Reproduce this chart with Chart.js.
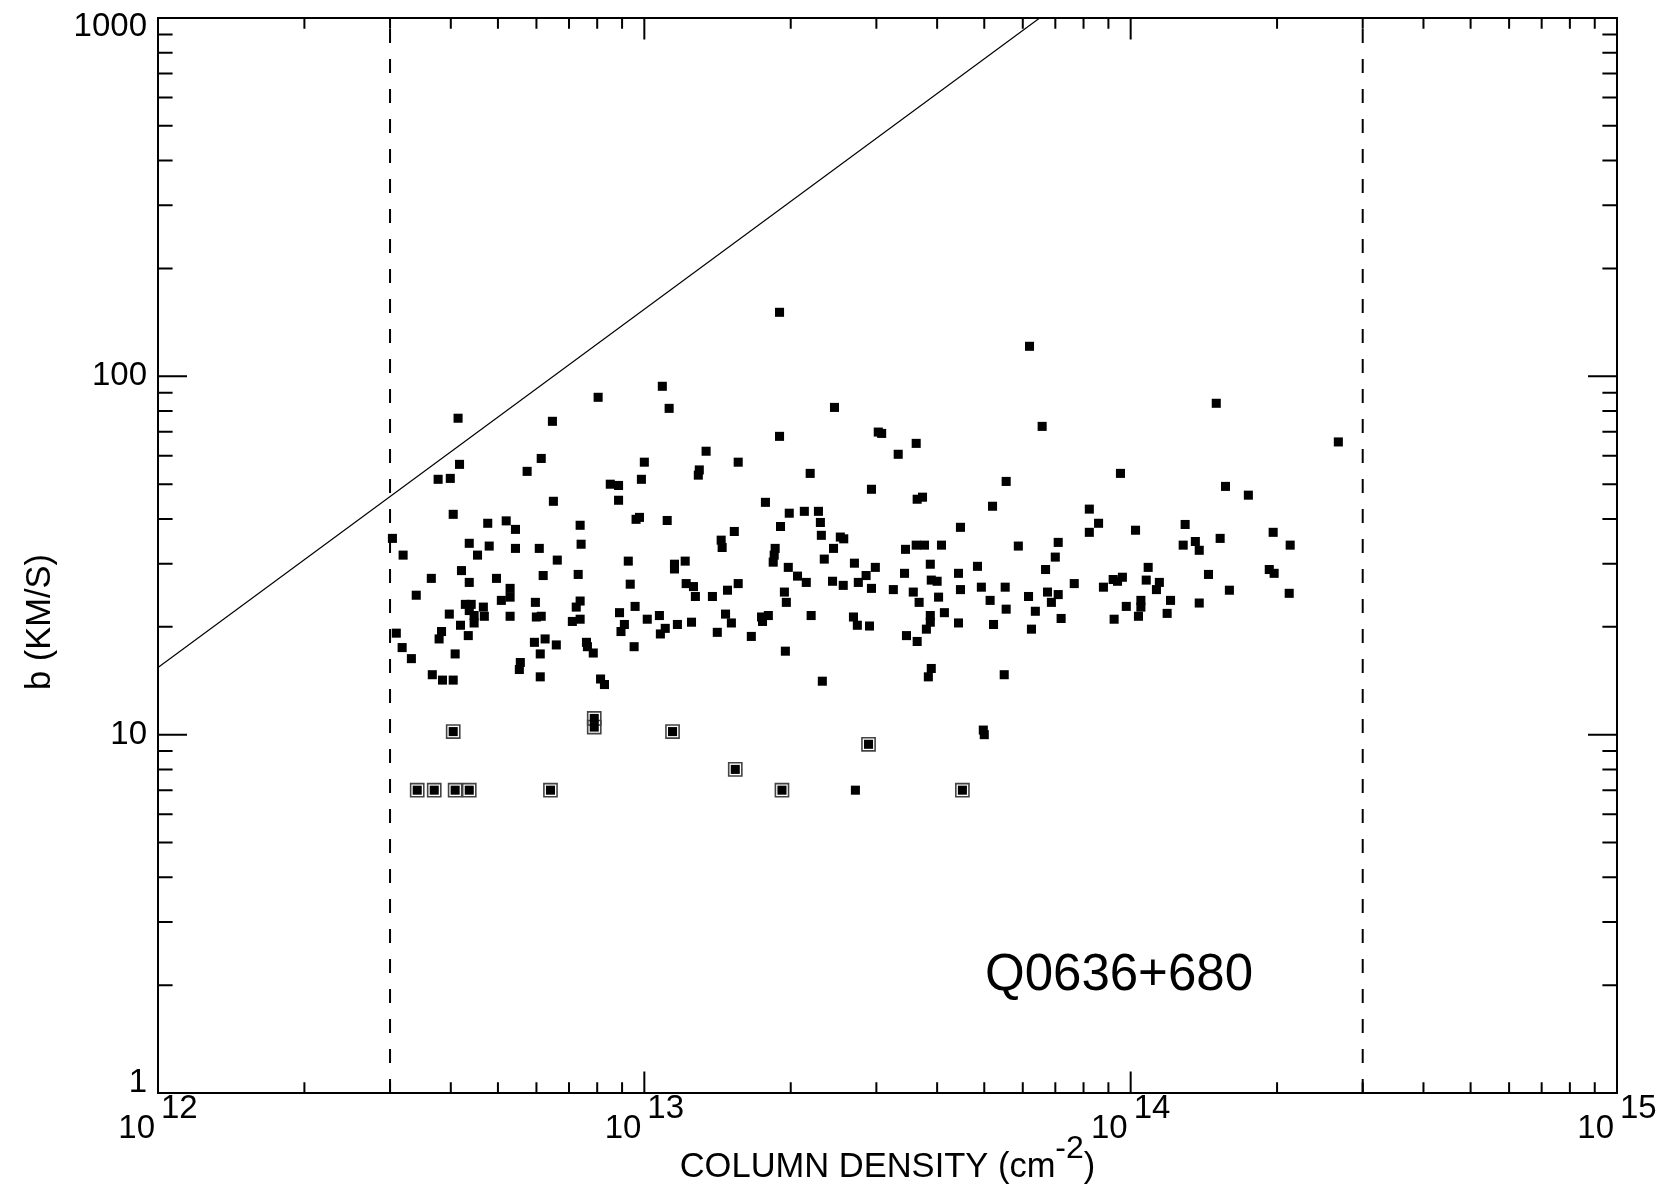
<!DOCTYPE html>
<html>
<head>
<meta charset="utf-8">
<script src="https://cdn.jsdelivr.net/npm/chart.js@4.4.0/dist/chart.umd.min.js"></script>
<style>
  html, body { margin: 0; padding: 0; background: #fff; }
  #wrap { width: 1670px; height: 1193px; }
</style>
</head>
<body>
<div id="wrap"><canvas id="bplot" width="1670" height="1193"></canvas></div>
<script>
// log10 of column density (cm^-2) and Doppler b (km/s)
const logN = [
  12.905, 12.617, 12.811, 12.788, 12.620, 12.759, 12.576, 12.601, 12.930, 12.947,
  12.813, 12.947, 12.607, 12.678, 12.716, 12.735, 12.868, 12.482, 12.640, 12.681,
  12.735, 12.784, 12.870,
  13.278, 13.037, 13.051, 13.391, 13.278, 13.127, 13.000, 13.193, 13.113, 13.111,
  13.341, 12.994, 13.249, 13.298, 13.329, 13.358, 13.362, 12.990, 12.983, 13.047,
  13.280, 13.185, 13.158, 13.160, 13.364, 13.403, 13.410, 13.269, 13.389,
  13.792, 13.481, 13.488, 13.559, 13.522, 13.818, 13.744, 13.467, 13.561, 13.572,
  13.716, 13.915, 13.934, 13.915, 13.650, 13.537, 13.559, 13.576, 13.611, 13.769,
  13.851,
  14.176, 14.427, 13.979, 14.195, 14.242, 14.112, 14.010, 14.293, 14.184, 14.133,
  14.108, 14.141, 14.328,
  12.504, 12.657, 12.821, 12.624, 12.562, 12.640, 12.696, 12.792, 12.864, 12.531,
  12.724, 12.724, 12.706, 12.632, 12.644, 12.640, 12.669, 12.650, 12.650, 12.671,
  12.599, 12.622, 12.724, 12.776, 12.778, 12.788, 12.868, 12.860, 12.868, 12.852,
  12.949, 12.490, 12.583, 12.578, 12.638, 12.502, 12.521, 12.611, 12.774, 12.796,
  12.819, 12.786, 12.881, 12.883, 12.895, 12.745, 12.743, 12.564, 12.585, 12.607,
  12.786, 12.910, 12.918,
  13.267, 13.265, 12.967, 13.062, 13.062, 13.084, 13.296, 13.370, 13.432, 13.315,
  13.333, 13.387, 13.409, 13.440, 12.971, 13.086, 13.101, 13.105, 13.140, 13.171,
  13.193, 13.288, 13.292, 12.981, 12.959, 12.952, 13.006, 13.031, 13.043, 13.033,
  13.068, 13.097, 13.167, 13.179, 13.150, 13.220, 13.241, 13.243, 13.255, 13.343,
  13.430, 13.438, 12.979, 13.290, 13.366, 13.434,
  13.845, 13.456, 13.475, 13.467, 13.512, 13.535, 13.588, 13.553, 13.565, 13.590,
  13.602, 13.605, 13.646, 13.650, 13.685, 13.693, 13.711, 13.742, 13.744, 13.790,
  13.825, 13.829, 13.837, 13.851, 13.884, 13.804, 13.857, 13.796, 13.718, 13.646,
  13.617, 13.588, 13.588, 13.580, 13.463, 13.539, 13.561, 13.590, 13.584, 13.740,
  13.697, 13.699,
  14.036, 13.964, 13.983, 13.973, 13.944, 14.032, 14.059, 14.053, 14.160, 14.285,
  14.295, 14.203, 14.326, 14.021, 14.021, 14.016, 13.991, 13.966, 14.082, 14.075,
  14.141
];
const bKms = [
  87.4, 76.4, 74.9, 59.0, 56.8, 54.3, 51.6, 51.9, 50.0, 49.6,
  44.8, 45.1, 41.2, 38.9, 39.5, 37.4, 38.4, 35.3, 34.2, 33.6,
  33.1, 33.1, 34.0,
  150.9, 93.8, 81.4, 81.9, 68.0, 61.8, 57.6, 57.6, 54.8, 53.0,
  53.6, 51.6, 44.5, 41.5, 42.0, 42.0, 39.1, 40.4, 39.9, 39.6,
  38.1, 36.9, 34.9, 33.3, 36.0, 35.6, 35.2, 33.1, 33.1,
  121.3, 69.9, 69.3, 65.0, 60.6, 72.5, 50.9, 48.4, 45.4, 46.0,
  43.4, 42.6, 38.9, 36.7, 37.9, 32.9, 33.8, 33.8, 33.8, 33.6,
  34.4,
  84.1, 65.6, 53.6, 49.3, 46.6, 38.6, 37.2, 36.7, 35.3, 34.6,
  33.8, 32.7, 33.8,
  31.7, 31.7, 30.7, 28.7, 27.3, 26.6, 27.3, 27.8, 28.0, 24.5,
  25.6, 24.2, 23.7, 23.1, 23.1, 22.2, 22.7, 21.5, 20.5, 21.4,
  21.7, 20.2, 21.4, 23.4, 21.3, 21.4, 23.6, 22.7, 21.0, 20.7,
  21.9, 19.2, 19.4, 18.5, 18.9, 17.5, 16.3, 16.8, 18.1, 18.5,
  17.8, 16.8, 18.1, 17.6, 16.9, 15.9, 15.2, 14.7, 14.2, 14.2,
  14.5, 14.3, 13.8,
  31.7, 30.3, 30.5, 29.9, 29.0, 30.5, 29.3, 30.9, 30.1, 27.7,
  26.6, 26.8, 26.1, 26.6, 26.3, 26.4, 25.9, 24.3, 24.3, 25.3,
  26.4, 25.0, 23.4, 22.8, 20.3, 19.4, 21.0, 21.5, 19.8, 19.1,
  20.3, 20.6, 21.7, 20.5, 19.3, 18.8, 21.3, 20.7, 21.5, 21.5,
  21.3, 20.2, 17.6, 17.1, 14.1, 7.0,
  31.3, 27.8, 29.3, 25.6, 25.4, 28.2, 29.9, 25.0, 23.4, 27.0,
  26.8, 24.2, 28.2, 25.4, 29.5, 25.8, 23.7, 25.8, 22.4, 24.3,
  28.9, 25.0, 23.4, 24.6, 26.4, 22.1, 21.1, 19.7, 20.3, 20.5,
  21.9, 21.5, 20.6, 19.7, 20.1, 18.9, 18.2, 15.3, 14.5, 14.7,
  10.3, 10.0,
  29.3, 27.1, 27.5, 26.8, 25.8, 27.0, 26.6, 25.4, 28.0, 28.9,
  28.2, 25.3, 24.8, 23.7, 22.7, 21.4, 22.8, 21.0, 23.7, 21.8,
  23.3
];

// boxed points (b fixed at the fit limit)
const limLogN = [12.607, 12.897, 12.897, 12.533, 12.568, 12.611, 12.640, 12.807,
                 13.058, 13.187, 13.283, 13.461, 13.654];
const limB = [10.2, 11.1, 10.5, 7.0, 7.0, 7.0, 7.0, 7.0, 10.2, 8.0, 7.0, 9.4, 7.0];

// solid reference line and the two column density cut-offs
const refLineN = [1e12, 6.5e13];
const refLineB = [15.4, 1000];
const cutoffN = [3e12, 3e14];

const yTickValues = [1, 10, 100, 1000];
const xTickExps = [12, 13, 14, 15];
const panelLabel = "Q0636+680";

const FONT = "'Liberation Sans', Arial, Helvetica, sans-serif";

const pts = logN.map((l, i) => ({ x: Math.pow(10, l), y: bKms[i] }));
const limPts = limLogN.map((l, i) => ({ x: Math.pow(10, l), y: limB[i] }));
const refPts = refLineN.map((n, i) => ({ x: n, y: refLineB[i] }));
const cutoffSets = cutoffN.map(n => ({
  type: "line",
  data: [{ x: n, y: yTickValues[0] }, { x: n, y: yTickValues[yTickValues.length - 1] }],
  borderColor: "#000",
  borderWidth: 2,
  borderDash: [14, 16],
  pointRadius: 0,
  showLine: true
}));

// frame, inward ticks and labels, IDL style
const axesPlugin = {
  id: "idlAxes",
  afterDraw(chart) {
    const { ctx, chartArea: a } = chart;
    const xs = chart.scales.x, ys = chart.scales.y;
    ctx.save();
    ctx.strokeStyle = "#000";
    ctx.fillStyle = "#000";
    ctx.lineWidth = 2;
    ctx.strokeRect(a.left, a.top, a.right - a.left, a.bottom - a.top);

    ctx.beginPath();
    xTickExps.forEach(e => {
      for (let k = 1; k <= 9; k++) {
        if (e === xTickExps[xTickExps.length - 1] && k > 1) break;
        const px = xs.getPixelForValue(k * Math.pow(10, e));
        const len = k === 1 ? 21.5 : 10.75;
        ctx.moveTo(px, a.bottom); ctx.lineTo(px, a.bottom - len);
        ctx.moveTo(px, a.top); ctx.lineTo(px, a.top + len);
      }
    });
    yTickValues.forEach((v, i) => {
      for (let k = 1; k <= 9; k++) {
        if (i === yTickValues.length - 1 && k > 1) break;
        const py = ys.getPixelForValue(k * v);
        const len = k === 1 ? 29 : 14.6;
        ctx.moveTo(a.left, py); ctx.lineTo(a.left + len, py);
        ctx.moveTo(a.right, py); ctx.lineTo(a.right - len, py);
      }
    });
    ctx.stroke();

    // y tick labels
    ctx.font = "33px " + FONT;
    ctx.textAlign = "right";
    ctx.textBaseline = "middle";
    yTickValues.forEach((v, i) => {
      let py = ys.getPixelForValue(v);
      if (i === yTickValues.length - 1) py += 9;
      if (i === 0) py -= 10;
      ctx.fillText(String(v), a.left - 11, py);
    });

    // x tick labels 10^n
    ctx.textBaseline = "alphabetic";
    xTickExps.forEach(e => {
      const px = xs.getPixelForValue(Math.pow(10, e));
      ctx.textAlign = "right";
      ctx.fillText("10", px - 3, a.bottom + 45);
      ctx.textAlign = "left";
      ctx.fillText(String(e), px + 3, a.bottom + 25);
    });

    // x title with superscript
    const main = "COLUMN DENSITY (cm", sup = "-2", tail = ")";
    ctx.font = "34.5px " + FONT;
    const w1 = ctx.measureText(main).width, w3 = ctx.measureText(tail).width;
    ctx.font = "32px " + FONT;
    const w2 = ctx.measureText(sup).width;
    let tx = (a.left + a.right) / 2 - (w1 + w2 + w3) / 2;
    const base = a.bottom + 84;
    ctx.textAlign = "left";
    ctx.font = "34.5px " + FONT;
    ctx.fillText(main, tx, base);
    ctx.font = "32px " + FONT;
    ctx.fillText(sup, tx + w1, base - 19);
    ctx.font = "34.5px " + FONT;
    ctx.fillText(tail, tx + w1 + w2, base);

    // y title
    ctx.save();
    ctx.translate(50, 622);
    ctx.rotate(-Math.PI / 2);
    ctx.textAlign = "center";
    ctx.textBaseline = "alphabetic";
    ctx.font = "34.5px " + FONT;
    ctx.fillText("b (KM/S)", 0, 0);
    ctx.restore();

    // panel label
    ctx.font = "51px " + FONT;
    ctx.textAlign = "left";
    ctx.fillText(panelLabel, 985, 990);
    ctx.restore();
  }
};

new Chart(document.getElementById("bplot"), {
  type: "scatter",
  data: {
    datasets: [
      ...cutoffSets,
      {
        type: "line",
        data: refPts,
        borderColor: "#000",
        borderWidth: 1.2,
        pointRadius: 0,
        showLine: true
      },
      {
        data: pts,
        pointStyle: "rect",
        pointRadius: 6.4,
        backgroundColor: "#000",
        borderWidth: 0
      },
      {
        data: limPts,
        pointStyle: "rect",
        pointRadius: 6.4,
        backgroundColor: "#000",
        borderWidth: 0
      },
      {
        data: limPts,
        pointStyle: "rect",
        pointRadius: 9.3,
        backgroundColor: "rgba(0,0,0,0)",
        borderColor: "#444",
        borderWidth: 1.6
      }
    ]
  },
  options: {
    responsive: false,
    animation: false,
    events: [],
    layout: { padding: { left: 158, right: 53, top: 18, bottom: 100 } },
    plugins: { legend: { display: false }, tooltip: { enabled: false } },
    scales: {
      x: {
        type: "logarithmic",
        min: 1e12,
        max: 1e15,
        ticks: { display: false },
        grid: { display: false },
        border: { display: false },
        afterFit: s => { s.height = 0; }
      },
      y: {
        type: "logarithmic",
        min: 1,
        max: 1000,
        ticks: { display: false },
        grid: { display: false },
        border: { display: false },
        afterFit: s => { s.width = 0; }
      }
    }
  },
  plugins: [axesPlugin]
});
</script>
</body>
</html>
